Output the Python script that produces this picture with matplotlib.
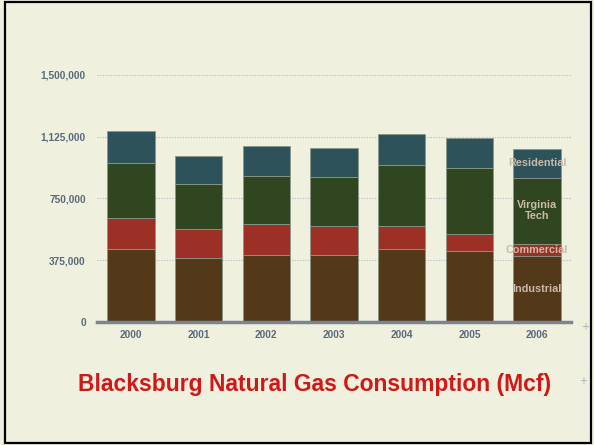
import matplotlib.pyplot as plt
from matplotlib.patches import Rectangle
import numpy as np

years = ['2000', '2001', '2002', '2003', '2004', '2005', '2006']
industrial = [446000, 389000, 407000, 407000, 442000, 430000, 401000]
commercial = [187000, 174000, 187000, 178000, 142000, 107000, 75000]
virginia_tech = [334000, 277000, 295000, 294000, 367000, 398000, 398000]
residential = [195000, 167000, 179000, 180000, 188000, 180000, 178000]

y_ticks = [0, 375000, 750000, 1125000, 1500000]
y_labels = ['0', '375,000', '750,000', '1,125,000', '1,500,000']

bg = '#eff0de'
tick_color = '#5b6a7b'

fig = plt.figure(figsize=(5.94, 4.45), dpi=100, facecolor=bg)
ax = fig.add_axes([0.1633, 0.2764, 0.798, 0.5551], facecolor=bg)

x = np.arange(len(years))
series = [
    (industrial, '#533819'),
    (commercial, '#9c3026'),
    (virginia_tech, '#2f4620'),
    (residential, '#2d525a'),
]
bottom = np.zeros(len(years))
for values, color in series:
    ax.bar(x, values, 0.7, bottom=bottom, color=color,
           edgecolor='#8c9688', linewidth=0.6, zorder=2)
    bottom += np.array(values)

# labels inside last bar
last = len(years) - 1
label_color = '#c9b9a7'
cum = 0
names = ['Industrial', 'Commercial', 'Virginia\nTech', 'Residential']
for (values, color), name in zip(series, names):
    v = values[last]
    ax.text(last, cum + v / 2, name, ha='center', va='center',
            fontsize=7.8, fontweight='bold', color=label_color,
            family='Liberation Sans', linespacing=1.1, zorder=3)
    cum += v

ax.set_xlim(-0.5, len(years) - 0.5)
ax.set_ylim(0, 1500000)
ax.set_yticks(y_ticks)
ax.set_yticklabels(y_labels)
ax.set_xticks(x)
ax.set_xticklabels(years)
ax.grid(axis='y', linestyle=(0, (1.2, 1.2)), color='#c0c4cc', linewidth=0.8, zorder=0)
ax.tick_params(length=0, colors=tick_color)
ax.tick_params(axis='y', pad=8)
ax.tick_params(axis='x', pad=6)
for lab in ax.get_xticklabels() + ax.get_yticklabels():
    lab.set_fontsize(7.3)
    lab.set_fontweight('bold')
    lab.set_family('Liberation Sans')
    lab.set_color(tick_color)

for s in ['top', 'right', 'left']:
    ax.spines[s].set_visible(False)
ax.spines['bottom'].set_color('#7b8592')
ax.spines['bottom'].set_linewidth(2.5)

# small plus marks at the right
for px, py in [(585, 327), (583, 381)]:
    fig.text(px / 594, 1 - py / 445, '+', color='#a8b0bc', fontsize=7,
             ha='center', va='center')

fig.text(315 / 594, 1 - 384 / 445, 'Blacksburg Natural Gas Consumption (Mcf)',
         ha='center', va='center', color='#d01818', fontsize=16.5,
         fontweight='bold', family='Liberation Sans')

fig.patches.append(Rectangle((5 / 594, 2 / 445), 586 / 594, 441 / 445,
                             transform=fig.transFigure, fill=False,
                             edgecolor='black', linewidth=1.6))

fig.savefig('out.png', dpi=100, facecolor=bg)
